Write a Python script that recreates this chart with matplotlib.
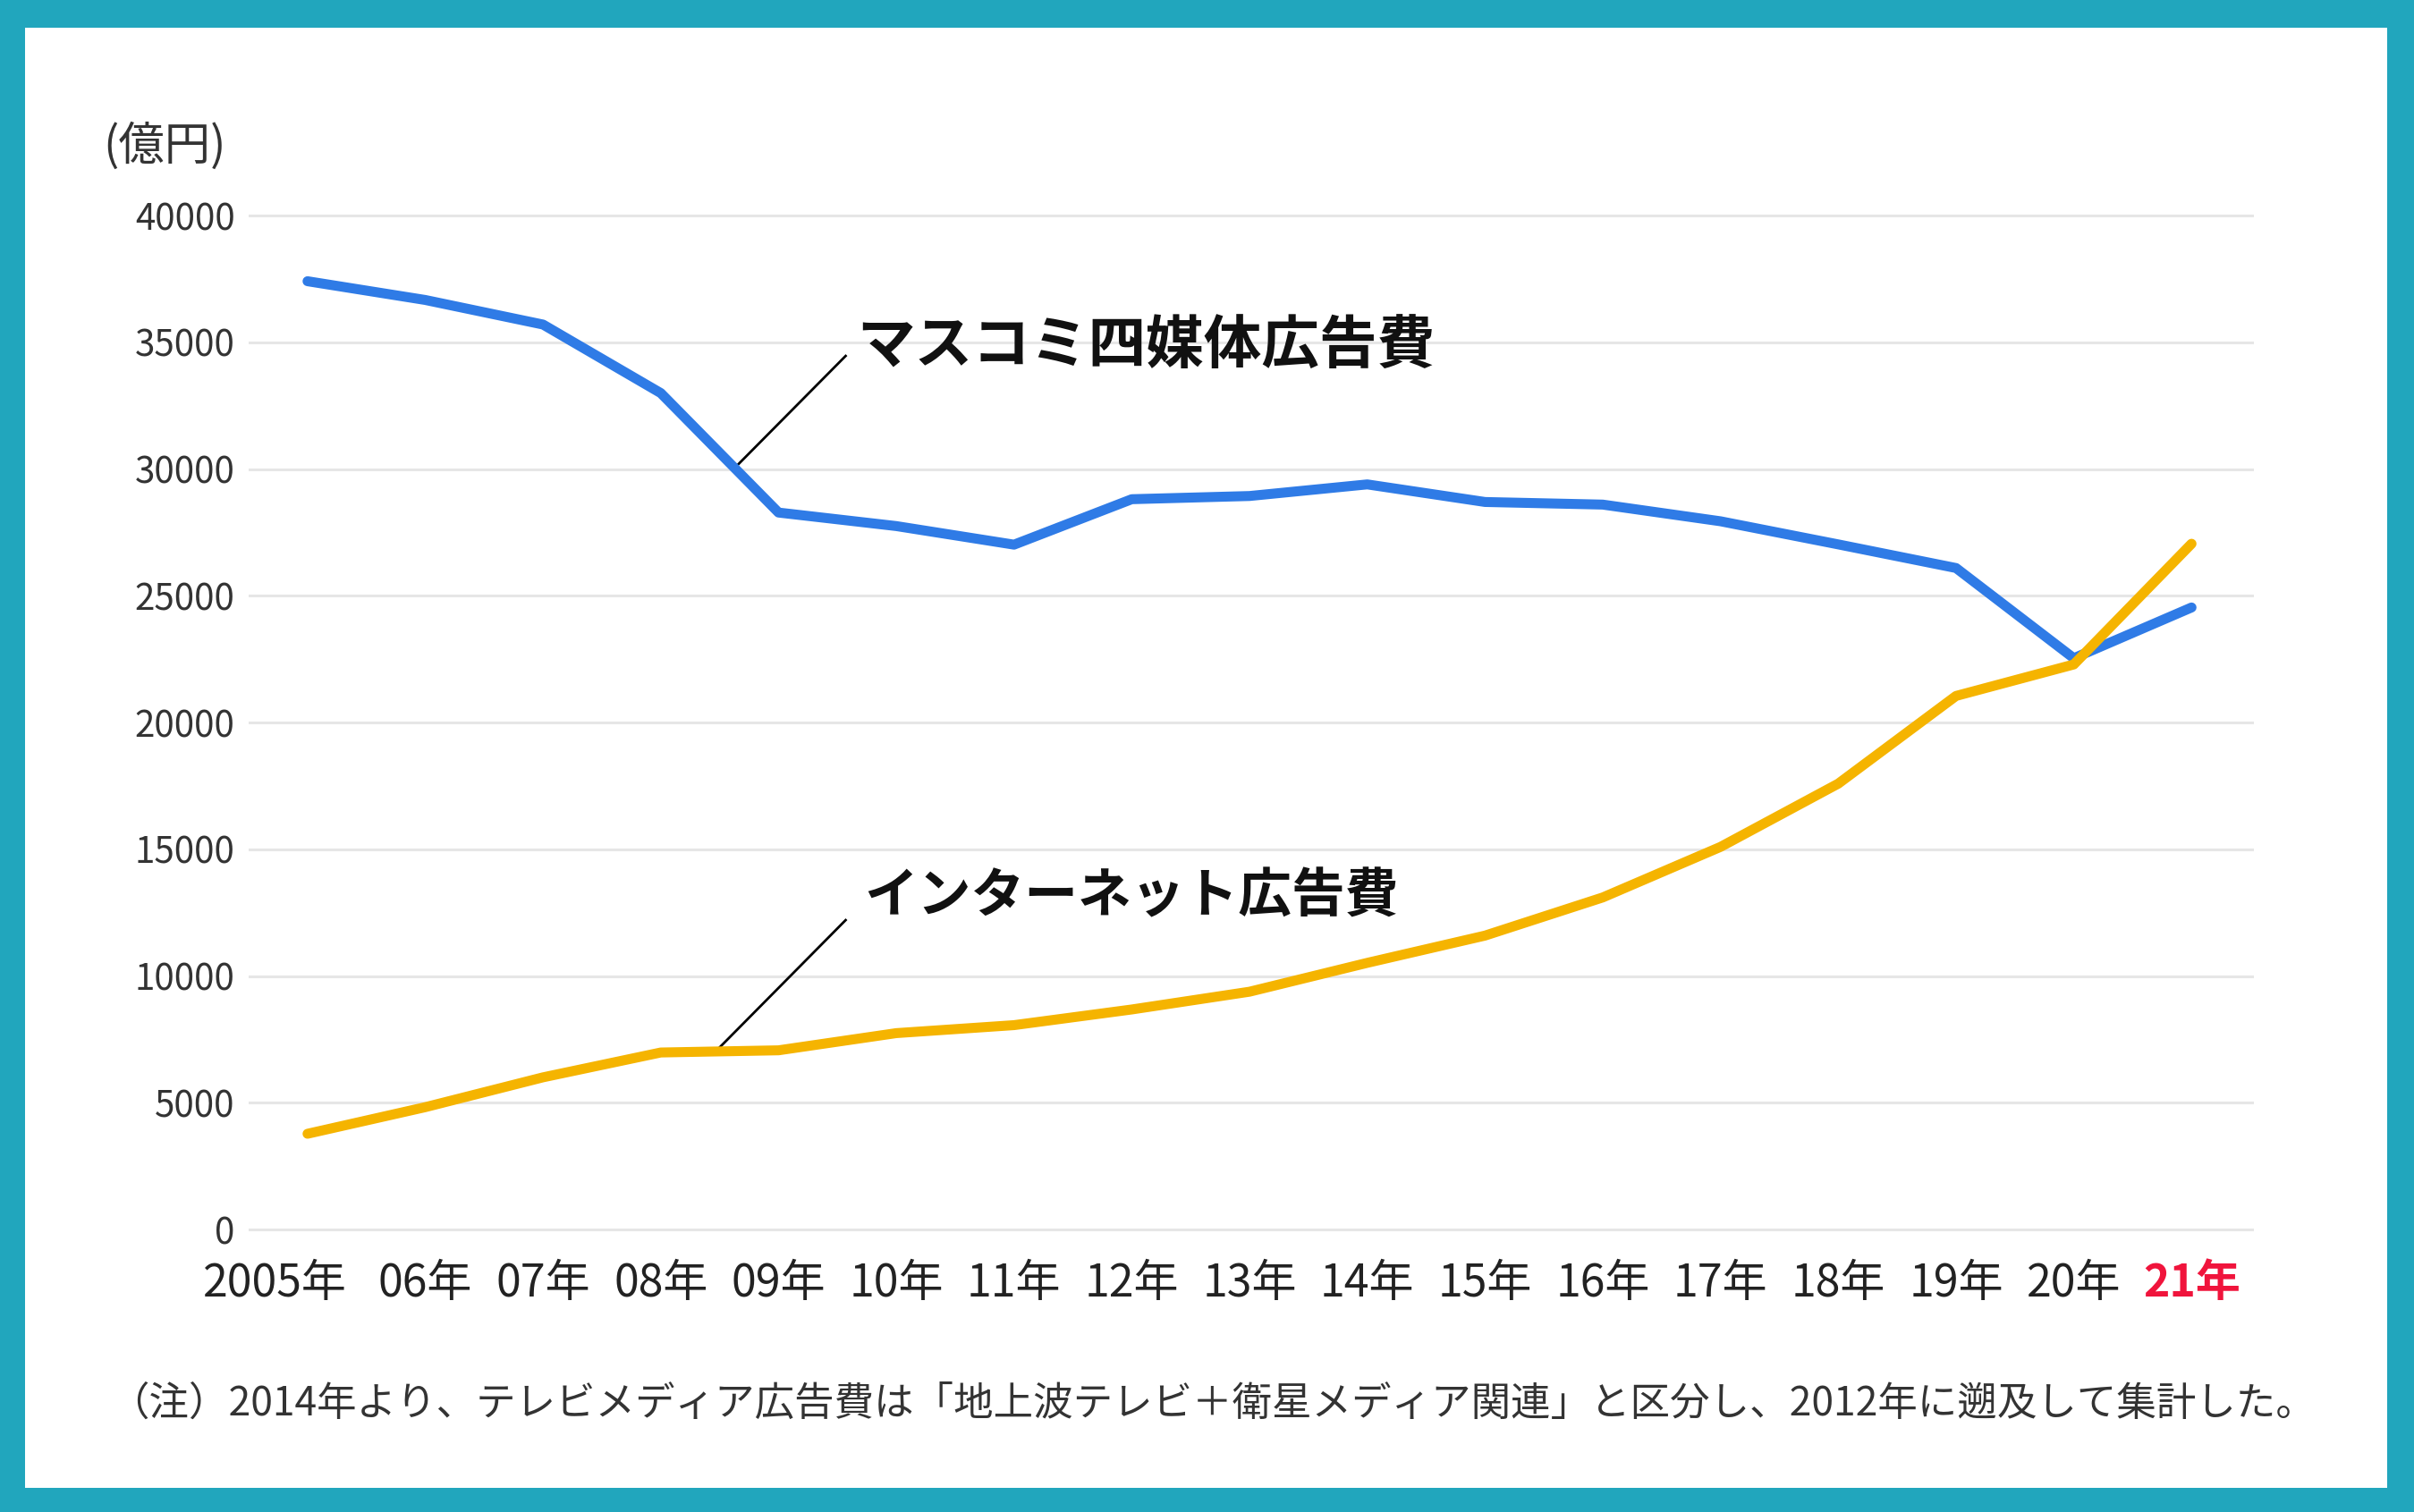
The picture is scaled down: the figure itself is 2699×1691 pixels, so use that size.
import numpy as np
import matplotlib
matplotlib.use("Agg")
import matplotlib.pyplot as plt
from matplotlib.patches import Rectangle
from matplotlib.transforms import ScaledTranslation

plt.rcParams['font.family'] = ['Noto Sans CJK JP', 'DejaVu Sans']

# data (億円)
years = ["2005年", "06年", "07年", "08年", "09年", "10年", "11年", "12年", "13年",
         "14年", "15年", "16年", "17年", "18年", "19年", "20年", "21年"]
mass4 = [37408, 36668, 35699, 32995, 28282, 27749, 27016, 28809, 28935,
         29393, 28699, 28596, 27938, 27026, 26094, 22536, 24538]
internet = [3777, 4826, 6003, 6983, 7069, 7747, 8062, 8680, 9381,
            10519, 11594, 13100, 15094, 17589, 21048, 22290, 27052]
yticks = [0, 5000, 10000, 15000, 20000, 25000, 30000, 35000, 40000]

label_mass = "マスコミ四媒体広告費"
label_net = "インターネット広告費"
unit = "(億円)"
note = "（注）2014年より、テレビメディア広告費は「地上波テレビ＋衛星メディア関連」と区分し、2012年に遡及して集計した。"

W, H = 2699, 1691
fig = plt.figure(figsize=(W / 100, H / 100), dpi=100)
fig.patch.set_facecolor('#21a6bd')
# white panel inside the teal frame
fig.add_artist(Rectangle((28 / W, (H - 1664) / H), (2669 - 28) / W, (1664 - 31) / H,
                         transform=fig.transFigure, facecolor='white', edgecolor='none', zorder=0))

ax = fig.add_axes([0.1030, 0.1818, 0.8307, 0.6807])
ax.set_facecolor('none')
x = np.arange(len(years))

ax.plot(x, mass4, color='#2f7be6', lw=8, solid_capstyle='round', solid_joinstyle='round', zorder=3)
ax.plot(x, internet, color='#f5b400', lw=8, solid_capstyle='round', solid_joinstyle='round', zorder=4)

ax.set_xlim(-0.5, 16.53)
ax.set_ylim(-300, 40300)
ax.set_yticks(yticks)
ax.set_yticklabels([str(v) for v in yticks])
ax.grid(axis='y', color='#e6e6e6', lw=2.2)
ax.set_axisbelow(True)
for s in ax.spines.values():
    s.set_visible(False)
ax.tick_params(axis='y', length=0, pad=11, labelsize=29, labelcolor='#333333')
ax.tick_params(axis='x', length=0, pad=19, labelsize=36, labelcolor='#222222')
ax.set_xticks(x)
ax.set_xticklabels(years)
labels = ax.get_xticklabels()
labels[0].set_transform(labels[0].get_transform() + ScaledTranslation(-0.36, 0, fig.dpi_scale_trans))
labels[-1].set_color('#f0143c')
labels[-1].set_fontweight('bold')

# leader lines and series labels
ax.plot([3.64, 4.57], [30100, 34460], color='black', lw=2)
ax.text(4.67, 34850, label_mass, fontsize=46.5, fontweight='bold', ha='left', va='center', color='#111111')
ax.plot([3.48, 4.57], [7090, 12205], color='black', lw=2)
ax.text(4.73, 13120, label_net, fontsize=43, fontweight='bold', ha='left', va='center', color='#111111')

fig.text(115 / W, 1 - 164 / H, unit, fontsize=37, ha='left', va='center', color='#333333')
fig.text(122 / W, 1 - 1570 / H, note, fontsize=32, ha='left', va='center', color='#333333')

fig.savefig("out.png", dpi=100, facecolor=fig.get_facecolor())
